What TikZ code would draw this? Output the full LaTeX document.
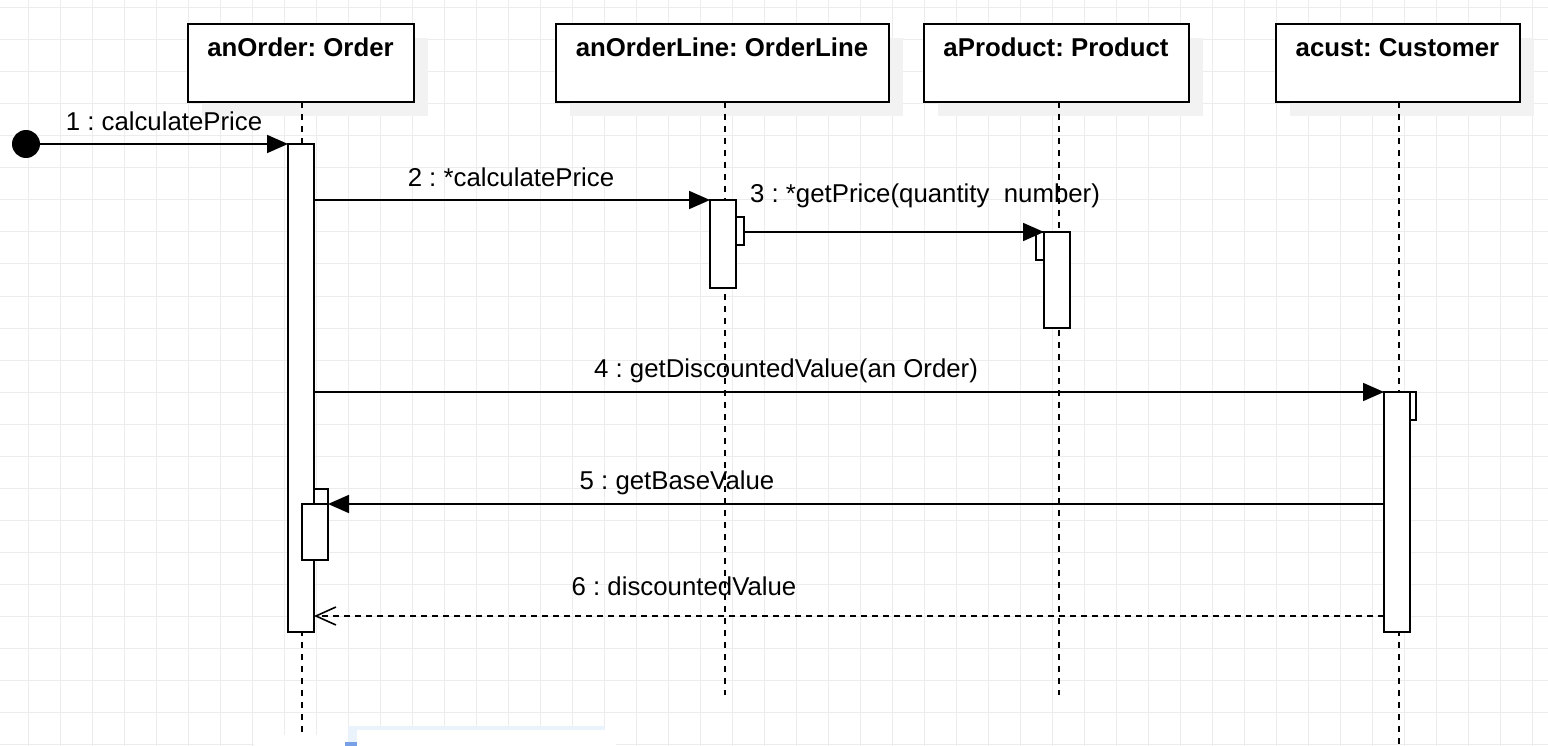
\documentclass[tikz,border=0pt]{standalone}
\usepackage{fontspec}
\setmainfont{Liberation Sans}
\usetikzlibrary{arrows.meta,shadows}
\definecolor{gridgray}{RGB}{236,236,236}
\definecolor{shadowgray}{RGB}{242,242,242}
\definecolor{selblue}{RGB}{234,242,252}
\definecolor{selblue2}{RGB}{120,160,230}
\tikzset{
 gridline/.style={draw=gridgray, line width=1pt},
 headbox/.style={draw=black, fill=white, line width=2pt, rectangle, inner sep=0pt, outer sep=0pt, minimum height=78pt,
   drop shadow={shadow xshift=14pt, shadow yshift=-14pt, fill=shadowgray, opacity=1}},
 titletext/.style={font=\frenchspacing\bfseries\fontsize{25.8}{30}\selectfont, anchor=base, inner sep=0pt},
 msglabel/.style={font=\frenchspacing\fontsize{25.8}{30}\selectfont, anchor=base, inner sep=0pt},
 bar/.style={draw=black, fill=white, line width=2pt, rectangle, inner sep=0pt, outer sep=0pt},
 life/.style={draw=black, line width=2pt, dash pattern=on 6pt off 6pt},
 msg/.style={draw=black, line width=1.8pt, -{Triangle[length=21pt,width=18pt]}},
 ret/.style={draw=black, line width=1.6pt, dash pattern=on 6pt off 5pt, -{Straight Barb[length=20pt,width=18pt]}},
 startdot/.style={circle, fill=black, minimum size=28pt, inner sep=0pt, outer sep=0pt},
}
\begin{document}
\frenchspacing
\begin{tikzpicture}[x=1pt,y=-1pt]
\useasboundingbox (0,0) rectangle (1548,746);
\fill[white] (0,0) rectangle (1548,746);
% grid
\foreach \gx in {28,60,...,1548} \draw[gridline] (\gx,0) -- (\gx,746);
\foreach \gy in {8,40,...,746} \draw[gridline] (0,\gy) -- (1548,\gy);

% coordinates for lifeline ends
\coordinate (bottomEnd) at (0,746);
\coordinate (midEnd) at (0,695);

% lifeline heads
\node[headbox, minimum width=226pt] (o) at (301,63) {};
\node[headbox, minimum width=333pt] (ol) at (722.5,63) {};
\node[headbox, minimum width=265pt] (p) at (1056.5,63) {};
\node[headbox, minimum width=244pt] (c) at (1398,63) {};
\node[titletext] (to) at (300.5,57) {anOrder: Order};
\node[titletext] (tol) at (722,57) {anOrderLine: OrderLine};
\node[titletext] (tp) at (1056,57) {aProduct: Product};
\node[titletext] (tc) at (1397.5,57) {acust: Customer};

% lifelines
\draw[life] ([xshift=1pt]o.south) -- ([xshift=1pt]o.south |- bottomEnd);
\draw[life] ([xshift=2.5pt]ol.south) -- ([xshift=2.5pt]ol.south |- midEnd);
\draw[life] ([xshift=2.5pt]p.south) -- ([xshift=2.5pt]p.south |- midEnd);
\draw[life] ([xshift=1pt]c.south) -- ([xshift=1pt]c.south |- bottomEnd);

% activation bars
\node[bar, minimum width=26pt, minimum height=488pt] (a1) at (301,388) {};
\node[bar, minimum width=26pt, minimum height=88pt] (a2) at (723,244) {};
\node[bar, minimum width=8pt, minimum height=28pt] (s2) at (740,231) {};
\node[bar, minimum width=8pt, minimum height=28pt] (s3) at (1040,246) {};
\node[bar, minimum width=26pt, minimum height=96pt] (a3) at (1057,280) {};
\node[bar, minimum width=6pt, minimum height=28pt] (s4) at (1413,406) {};
\node[bar, minimum width=26pt, minimum height=240pt] (a4) at (1397,512) {};
\node[bar, minimum width=14pt, minimum height=15pt] (s5) at (321,496.5) {};
\node[bar, minimum width=26pt, minimum height=56pt] (a5) at (315,532) {};

% start dot
\node[startdot] (dot) at (26,144) {};
\coordinate (r6) at (1384,616);

% messages
\draw[msg] (dot) -- (a1.north west);
\draw[msg] (a1.east |- a2.north) -- (a2.north west);
\draw[msg] (s2.east |- a3.north) -- (a3.north west);
\draw[msg] (a1.east |- a4.north) -- (a4.north west);
\draw[msg] (a4.west |- a5.north) -- (a5.north east);
\draw[ret] (r6) -- (a1.east |- r6);

% labels
\node[msglabel] (l1) at (164,131) {1 : calculatePrice};
\node[msglabel] (l2) at (511,187) {2 : *calculatePrice};
\node[msglabel] (l3) at (925,203) {3 : *getPrice(quantity~~number)};
\node[msglabel] (l4) at (786,377) {4 : getDiscountedValue(an Order)};
\node[msglabel] (l5) at (677,489) {5 : getBaseValue};
\node[msglabel] (l6) at (684,595) {6 : discountedValue};

% bottom screenshot artefact
\fill[white] (254,735) rectangle (616,746);
\fill[selblue] (348,726) rectangle (605,746);
\fill[white] (357,730) rectangle (605,746);
\fill[selblue2] (345,742) rectangle (357,746);
\end{tikzpicture}
\end{document}
